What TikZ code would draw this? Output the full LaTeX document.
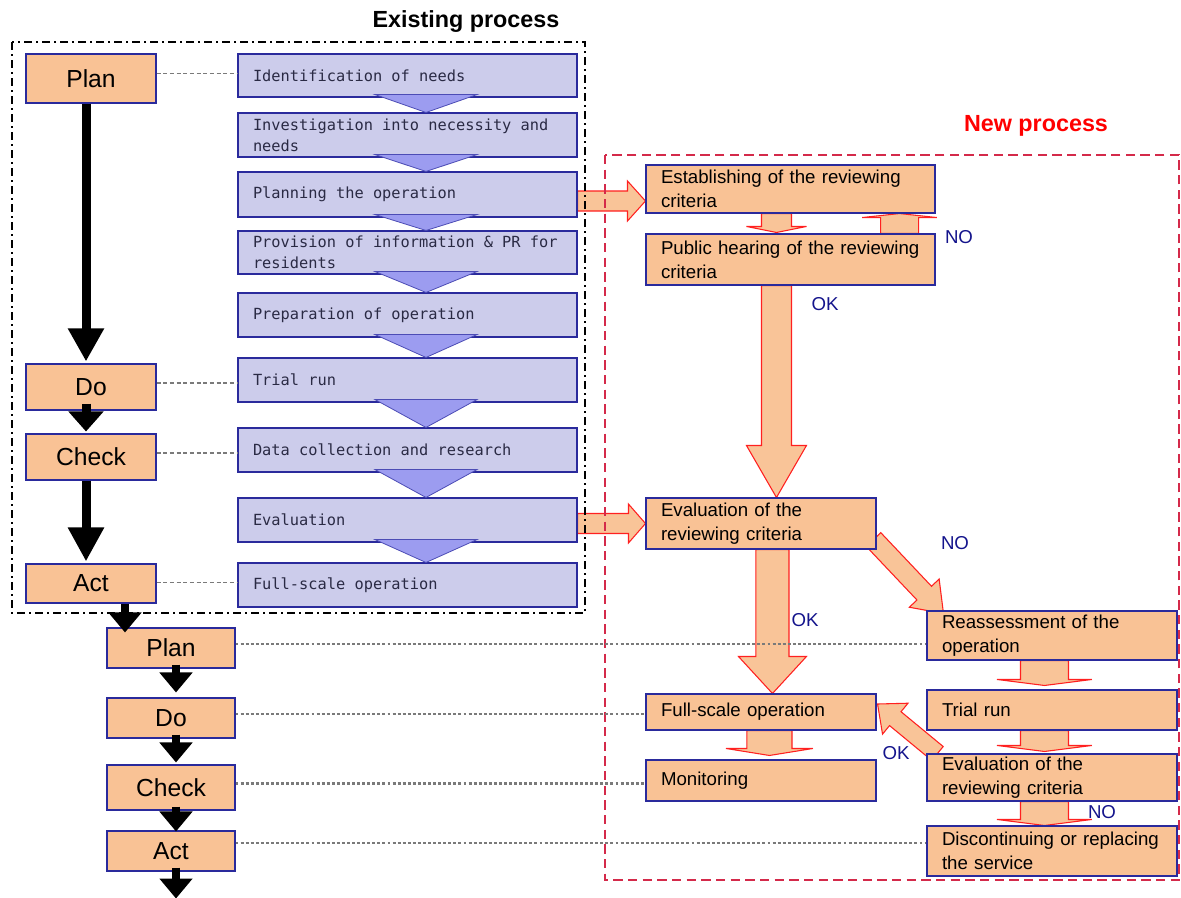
\documentclass[tikz,border=0pt]{standalone}
\usepackage{fontspec}
\setmainfont{Liberation Sans}
\newfontfamily\monof{DejaVu Sans Mono}
\usetikzlibrary{calc,arrows.meta,backgrounds}
\pgfdeclarelayer{bottom}
\pgfsetlayers{bottom,background,main}
\definecolor{orfill}{HTML}{F9C295}
\definecolor{arfill}{HTML}{F9C498}
\definecolor{arline}{HTML}{FF2020}
\definecolor{blfill}{HTML}{CCCCEB}
\definecolor{trifill}{HTML}{9C9CF0}
\definecolor{boxline}{HTML}{2A2A9C}
\definecolor{bltext}{HTML}{2A2A44}
\definecolor{navy}{HTML}{14148C}
\definecolor{redframe}{HTML}{D42A4A}
\definecolor{linkgray}{HTML}{7A7A7A}
\newcommand\mkbox[7]{\node[#6, minimum width={(#4-#2)*0.75pt}, minimum height={(#5-#3)*0.75pt}] (#1) at ({(#2+#4)/2},{(#3+#5)/2}) {#7};}
\newcommand\mktbox[7]{\node[#6, inner xsep=11.25pt, inner ysep=0pt, minimum height={(#5-#3)*0.75pt}, align=left] (#1) at ({(#2+#4)/2},{(#3+#5)/2}) {#7};}
\newcommand\blockarr[5]{%
  \coordinate (bH) at ($(#2)!#5!(#1)$);
  \draw[barrow] ($(#1)!#3!90:(#2)$) -- ($(bH)!#3!90:(#2)$) -- ($(bH)!#4!90:(#2)$) -- (#2) -- ($(bH)!#4!-90:(#2)$) -- ($(bH)!#3!-90:(#2)$) -- ($(#1)!#3!-90:(#2)$) -- cycle;}
\newcommand\bluetri[2]{\draw[bltri] ($(#1.south)+(-32.5,-3)$) -- ($(#1.south)+(69.5,-3)$) -- ($(#2.north)+(18.5,0)$) -- cycle;}
\tikzset{
  pdca/.style={draw=boxline, fill=orfill, line width=0.8pt, inner sep=0pt, font=\fontsize{18.5pt}{22pt}\selectfont},
  bbox/.style={draw=boxline, fill=blfill, line width=0.8pt, text=bltext, text width=231.75pt, font={\monof\fontsize{11.5pt}{15.75pt}\selectfont}, execute at begin node={\spaceskip=0.602em\relax\xspaceskip=0.602em\relax}},
  obox/.style={draw=boxline, fill=orfill, line width=0.8pt, text=black, font=\fontsize{14pt}{18pt}\selectfont},
  owide/.style={obox, text width=194.25pt},
  omid/.style={obox, text width=150pt},
  oright/.style={obox, text width=165pt},
  barrow/.style={fill=arfill, draw=arline, line width=0.8pt, line join=miter},
  bltri/.style={fill=trifill, draw=boxline!70!trifill, line width=0.6pt},
  barr/.style={draw=black, line width=6.75pt, -{Triangle[width=25.5pt,length=#1]}},
  sarr/.style={draw=black, line width=6pt, -{Triangle[width=24pt,length=#1]}},
  glink/.style={draw=linkgray, line width=0.9pt, dash pattern=on 3pt off 2pt},
  dlink/.style={draw=linkgray, line width=1.6pt, dash pattern=on 2.2pt off 1.6pt},
  lbl/.style={text=navy, font=\fontsize{14pt}{16pt}\selectfont, inner sep=0pt},
  ttl/.style={font=\bfseries\fontsize{17.5pt}{20pt}\selectfont, inner sep=0pt}
}
\begin{document}
\begin{tikzpicture}[x=0.75pt,y=-0.75pt]
\useasboundingbox (0,0) rectangle (1181,897);
\begin{pgfonlayer}{bottom}
\fill[white] (0,0) rectangle (1181,897);
\end{pgfonlayer}

% titles
\node[ttl] (ttlold) at (466,22) {Existing process};
\node[ttl, text=red] (ttlnew) at (1036,126) {New process};

% PDCA column 1
\mkbox{p1}{26}{54}{156}{103}{pdca}{Plan}
\mkbox{d1}{26}{364}{156}{410}{pdca}{Do}
\mkbox{c1}{26}{434}{156}{480}{pdca}{Check}
\mkbox{a1}{26}{564}{156}{603}{pdca}{Act}
% PDCA column 2
\mkbox{p2}{107}{628}{235}{668}{pdca}{Plan}
\mkbox{d2}{107}{698}{235}{738}{pdca}{Do}
\mkbox{c2}{107}{765}{235}{810}{pdca}{Check}
\mkbox{a2}{107}{831}{235}{871}{pdca}{Act}

% existing process steps
\mktbox{b1}{238}{54}{577}{97}{bbox}{Identification of needs}
\mktbox{b2}{238}{113}{577}{157}{bbox}{Investigation into necessity and\\needs}
\mktbox{b3}{238}{172}{577}{217}{bbox}{Planning the operation}
\mktbox{b4}{238}{231}{577}{274}{bbox}{Provision of information \& PR for\\residents}
\mktbox{b5}{238}{293}{577}{337}{bbox}{Preparation of operation}
\mktbox{b6}{238}{358}{577}{402}{bbox}{Trial run}
\mktbox{b7}{238}{428}{577}{472}{bbox}{Data collection and research}
\mktbox{b8}{238}{498}{577}{542}{bbox}{Evaluation}
\mktbox{b9}{238}{563}{577}{607}{bbox}{Full-scale operation}

% new process steps
\mktbox{est}{646}{165}{935}{213}{owide}{Establishing of the reviewing\\criteria}
\mktbox{pub}{646}{234}{935}{285}{owide}{Public hearing of the reviewing\\criteria}
\mktbox{ev1}{646}{498}{876}{549}{omid}{Evaluation of the\\reviewing criteria}
\mktbox{full}{646}{694}{876}{730}{omid}{Full-scale operation}
\mktbox{mon}{646}{760}{876}{801}{omid}{Monitoring}
\mktbox{rea}{927}{611}{1177}{660}{oright}{Reassessment of the\\operation}
\mktbox{tri}{927}{690}{1177}{730}{oright}{Trial run}
\mktbox{ev2}{927}{754}{1177}{801}{oright}{Evaluation of the\\reviewing criteria}
\mktbox{dis}{927}{826}{1177}{876}{oright}{Discontinuing or replacing\\the service}

% block arrows and frames behind
\begin{scope}[on background layer]
  \coordinate (t1) at ($(est.west)+(0,12)$);
  \coordinate (s1) at (b3.east |- t1);
  \blockarr{s1}{t1}{7.5pt}{15pt}{13.5pt}
  \coordinate (t2) at (ev1.west);
  \coordinate (s2) at (b8.east |- t2);
  \blockarr{s2}{t2}{7.5pt}{14.6pt}{12.75pt}
  \coordinate (s3) at ($(est.south west)+(131,0)$);
  \coordinate (t3) at ($(pub.north west)+(131,-1)$);
  \blockarr{s3}{t3}{11.25pt}{22.5pt}{4.5pt}
  \coordinate (s4) at ($(pub.north east)+(-36,0)$);
  \coordinate (t4) at ($(est.south east)+(-36,0)$);
  \blockarr{s4}{t4}{14.25pt}{28pt}{3pt}
  \coordinate (s5) at ($(pub.south west)+(131,0)$);
  \coordinate (t5) at ($(ev1.north west)+(131,0)$);
  \blockarr{s5}{t5}{11.25pt}{22.5pt}{39pt}
  \coordinate (s6) at ($(ev1.south west)+(127,0)$);
  \coordinate (t6) at ($(full.north west)+(127,0)$);
  \blockarr{s6}{t6}{12.4pt}{25.5pt}{27.75pt}
  \coordinate (s7) at ($(ev1.south east)+(-3,-10)$);
  \coordinate (t7) at ($(rea.north west)+(17,3)$);
  \blockarr{s7}{t7}{7.5pt}{15.4pt}{21pt}
  \coordinate (s8) at ($(rea.south west)+(118,0)$);
  \coordinate (t8) at ($(tri.north west)+(118,-4)$);
  \blockarr{s8}{t8}{18pt}{35.6pt}{4.5pt}
  \coordinate (s9) at ($(tri.south west)+(118,0)$);
  \coordinate (t9) at ($(ev2.north west)+(118,-2)$);
  \blockarr{s9}{t9}{18pt}{35.6pt}{4.5pt}
  \coordinate (s10) at ($(ev2.south west)+(118,0)$);
  \coordinate (t10) at ($(dis.north west)+(118,0)$);
  \blockarr{s10}{t10}{18pt}{35.6pt}{4.5pt}
  \coordinate (s11) at ($(full.south west)+(124,0)$);
  \coordinate (t11) at ($(mon.north west)+(124,-4)$);
  \blockarr{s11}{t11}{16.9pt}{32.6pt}{5.25pt}
  \coordinate (s12) at ($(ev2.north west)+(11,0)$);
  \coordinate (t12) at ($(full.east)+(1,-8)$);
  \blockarr{s12}{t12}{6.75pt}{15pt}{17.25pt}
  % frames
  \draw[black, line width=1.6pt, dash pattern=on 6pt off 3pt on 1.5pt off 3pt] (12,42) rectangle (585,613);
  \draw[redframe, line width=1.6pt, dash pattern=on 7pt off 4pt] (605,155) rectangle (1179,880);
\end{scope}

% links
\coordinate (l1) at ($(p1.east)+(0,-5)$);
\draw[glink] (l1) -- (l1 -| b1.west);
\coordinate (l2) at ($(d1.east)+(0,-4)$);
\draw[glink] (l2) -- (l2 -| b6.west);
\coordinate (l3) at ($(c1.east)+(0,-4)$);
\draw[glink] (l3) -- (l3 -| b7.west);
\coordinate (l4) at ($(a1.east)+(0,-1)$);
\draw[glink] (l4) -- (l4 -| b9.west);
\coordinate (l5) at ($(p2.east)+(0,-4)$);
\draw[dlink] (l5) -- (l5 -| rea.west);
\coordinate (l6) at ($(d2.east)+(0,-4)$);
\draw[dlink] (l6) -- (l6 -| full.west);
\coordinate (l7) at ($(c2.east)+(0,-4)$);
\draw[dlink] (l7) -- (l7 -| mon.west);
\coordinate (l8) at ($(a2.east)+(0,-8)$);
\draw[dlink] (l8) -- (l8 -| dis.west);

% blue triangles
\bluetri{b1}{b2}
\bluetri{b2}{b3}
\bluetri{b3}{b4}
\bluetri{b4}{b5}
\bluetri{b5}{b6}
\bluetri{b6}{b7}
\bluetri{b7}{b8}
\bluetri{b8}{b9}

% black arrows
\draw[barr=24.75pt] ($(p1.south)+(-5,0)$) -- ($(d1.north)+(-5,-2)$);
\draw[barr=15pt] ($(d1.south)+(-5,-7)$) -- ($(c1.north)+(-5,-2)$);
\draw[barr=25.5pt] ($(c1.south)+(-5,0)$) -- ($(a1.north)+(-5,-2)$);
\draw[sarr=15pt] ($(a1.south)+(34,0)$) -- ($(p2.north)+(-46,5)$);
\draw[sarr=15pt] ($(p2.south)+(5,-4)$) -- ($(d2.north)+(5,-5)$);
\draw[sarr=15pt] ($(d2.south)+(5,-4)$) -- ($(c2.north)+(5,-2)$);
\draw[sarr=15pt] ($(c2.south)+(5,-4)$) -- ($(a2.north)+(5,1)$);
\coordinate (outend) at ($(a2.south)+(5,27)$);
\draw[sarr=15pt] ($(a2.south)+(5,-4)$) -- (outend);

% labels
\node[lbl] (no1) at (959,237) {NO};
\node[lbl] (ok1) at (825,304) {OK};
\node[lbl] (no2) at (955,543) {NO};
\node[lbl] (ok2) at (805,620) {OK};
\node[lbl] (ok3) at (896,753) {OK};
\node[lbl] (no3) at (1102,812) {NO};
\end{tikzpicture}
\end{document}
